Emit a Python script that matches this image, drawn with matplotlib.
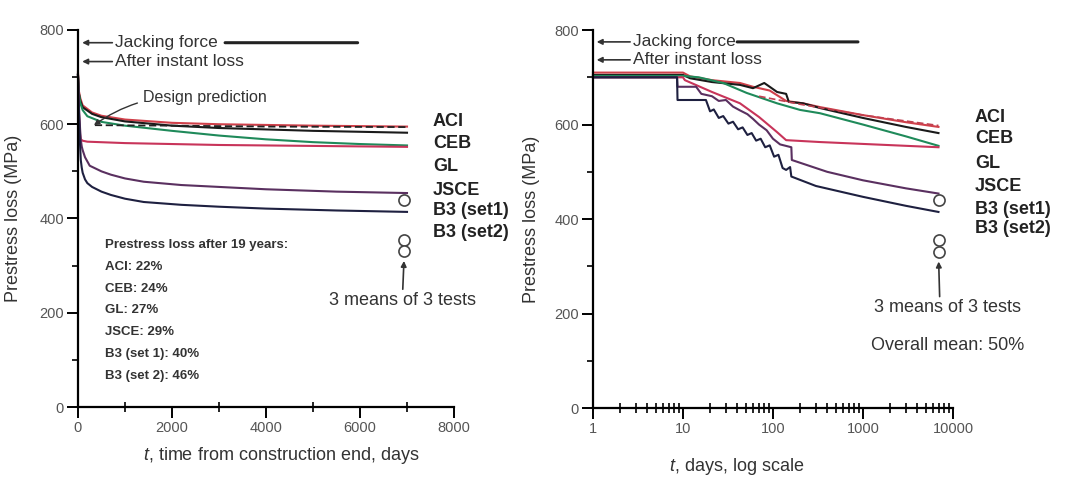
import numpy as np
import matplotlib
matplotlib.use("Agg")
import matplotlib.pyplot as plt
from matplotlib.ticker import MultipleLocator, LogLocator, NullFormatter, FixedLocator

plt.rcParams['font.family'] = ['Liberation Sans', 'DejaVu Sans']
plt.rcParams['mathtext.fontset'] = 'custom'
plt.rcParams['mathtext.it'] = 'Liberation Sans:italic'
plt.rcParams['mathtext.rm'] = 'Liberation Sans'

# -------------------------------
# data (t in days, loss in MPa)
# -------------------------------
models = ["ACI", "CEB", "GL", "JSCE", "B3 (set1)", "B3 (set2)"]
colors = ["#d0404a", "#1a1a1a", "#1f8a5a", "#c8345a", "#5a3060", "#1e2040"]

# linear time plot
lin_aci_t = [0, 20, 50, 100, 300, 500, 1000, 2000, 3000, 5000, 7000]
lin_aci_v = [710, 670, 655, 640, 625, 618, 610, 603, 600, 597, 595]
lin_ceb_t = [0, 20, 50, 100, 300, 500, 1000, 2000, 3000, 5000, 7000]
lin_ceb_v = [705, 665, 650, 636, 622, 615, 606, 597, 592, 586, 582]
lin_gl_t = [0, 20, 50, 100, 200, 500, 1000, 2000, 3000, 4000, 5000, 6000, 7000]
lin_gl_v = [705, 665, 645, 630, 617, 605, 597, 586, 576, 568, 562, 558, 555]
lin_jsce_t = [0, 15, 30, 45, 60, 100, 200, 1000, 3000, 7000]
lin_jsce_v = [705, 640, 600, 578, 568, 565, 563, 560, 556, 552]
lin_b31_t = [0, 15, 30, 45, 60, 80, 100, 150, 250, 500, 700, 1000, 1400, 2200, 3000, 4000, 5500, 7000]
lin_b31_v = [705, 650, 620, 590, 567, 553, 545, 530, 512, 500, 493, 485, 478, 471, 467, 462, 457, 454]
lin_b32_t = [0, 15, 30, 45, 60, 80, 100, 150, 200, 300, 500, 700, 1000, 1400, 2200, 3000, 4000, 5500, 7000]
lin_b32_v = [705, 640, 600, 555, 524, 508, 497, 483, 475, 467, 457, 450, 442, 435, 429, 425, 421, 417, 414]
lin_design_t = [360, 2000, 4000, 7000]
lin_design_v = [598, 597, 595, 594]

# log time plot
log_aci_t = [1, 10, 12, 21, 43, 60, 92, 140, 215, 333, 1000, 3000, 6900]
log_aci_v = [710, 710, 702, 694, 688, 680, 672, 650, 645, 637, 620, 605, 595]
log_ceb_t = [1, 10, 12, 21, 43, 60, 80, 92, 111, 140, 150, 215, 333, 1000, 3000, 6900]
log_ceb_v = [705, 705, 698, 690, 684, 677, 688, 680, 669, 665, 648, 645, 635, 614, 595, 582]
log_gl_t = [1, 10, 15, 28, 51, 111, 200, 333, 1000, 3000, 6900]
log_gl_v = [703, 703, 700, 688, 667, 645, 631, 624, 600, 575, 555]
log_jsce_t = [1, 10, 10.5, 21, 43, 70, 111, 140, 333, 1000, 3000, 6900]
log_jsce_v = [700, 700, 694, 669, 645, 616, 584, 567, 563, 559, 555, 552]
log_b31_t = [1, 8.6, 8.7, 14, 16, 21, 25, 30, 36, 43, 52, 60, 70, 85, 100, 120, 160, 162, 400, 1000, 3000, 6900]
log_b31_v = [700, 700, 680, 680, 665, 660, 650, 652, 638, 630, 622, 612, 600, 588, 570, 558, 552, 525, 500, 482, 465, 454]
log_b32_t = [1, 8.6, 8.7, 18, 20, 22, 25, 28, 32, 36, 41, 46, 52, 58, 65, 73, 82, 92, 103, 115, 128, 140, 155, 160, 300, 1000, 3000, 6900]
log_b32_v = [700, 700, 652, 652, 628, 632, 614, 618, 602, 606, 590, 594, 578, 582, 566, 570, 552, 556, 532, 536, 508, 504, 510, 490, 470, 447, 428, 415]
log_design_t = [70, 200, 1000, 6900]
log_design_v = [660, 643, 620, 598]

# measured means of 3 tests after 19 years
test_t = [6935, 6935, 6935]
test_v = [440, 355, 330]

loss_lines = ["Prestress loss after 19 years:", "ACI: 22%", "CEB: 24%", "GL: 27%",
              "JSCE: 29%", "B3 (set 1): 40%", "B3 (set 2): 46%"]

lin_series = [(lin_aci_t, lin_aci_v), (lin_ceb_t, lin_ceb_v), (lin_gl_t, lin_gl_v),
              (lin_jsce_t, lin_jsce_v), (lin_b31_t, lin_b31_v), (lin_b32_t, lin_b32_v)]
log_series = [(log_aci_t, log_aci_v), (log_ceb_t, log_ceb_v), (log_gl_t, log_gl_v),
              (log_jsce_t, log_jsce_v), (log_b31_t, log_b31_v), (log_b32_t, log_b32_v)]

label_y_left = [0.756, 0.698, 0.637, 0.573, 0.520, 0.464]
label_y_right = [0.770, 0.712, 0.646, 0.587, 0.526, 0.474]

fig = plt.figure(figsize=(10.68, 4.79), dpi=100)
ax1 = fig.add_axes([0.0730, 0.1503, 0.3521, 0.7871])
ax2 = fig.add_axes([0.5552, 0.1482, 0.3371, 0.7890])


def style_axes(ax):
    for s in ["top", "right"]:
        ax.spines[s].set_visible(False)
    for s in ["left", "bottom"]:
        ax.spines[s].set_linewidth(1.6)
    ax.set_ylim(0, 800)
    ax.yaxis.set_major_locator(MultipleLocator(200))
    ax.yaxis.set_minor_locator(MultipleLocator(100))
    ax.tick_params(which="major", direction="out", length=8, width=1.4,
                   labelsize=10.5, labelcolor="#555555", pad=2)
    ax.tick_params(which="minor", direction="out", length=4, width=1.2)
    ax.set_ylabel("Prestress loss (MPa)", fontsize=13, color="#333333")


# ---- left panel ----
style_axes(ax1)
ax1.set_xlim(0, 8000)
ax1.xaxis.set_major_locator(MultipleLocator(2000))
ax1.xaxis.set_minor_locator(MultipleLocator(1000))
ax1.tick_params(axis="x", which="minor", direction="inout", length=7)
ax1.yaxis.set_label_coords(-0.15, 0.5)
ax1.set_xlabel(r"$t$, time from construction end, days", fontsize=13, color="#333333")
ax1.xaxis.set_label_coords(0.54, -0.10)

for (t, v), c in zip(lin_series, colors):
    ax1.plot(t, v, color=c, lw=1.5, clip_on=False)
ax1.plot(lin_design_t, lin_design_v, color="#222222", lw=1.3, ls=(0, (4, 2)))
ax1.plot(test_t, test_v, "o", ms=8, mfc="white", mec="#444444", mew=1.2, clip_on=False)

for name, y in zip(models, label_y_left):
    ax1.text(0.944, y, name, transform=ax1.transAxes, fontsize=13, fontweight="bold",
             color="#222222", va="center", ha="left")

for i, line in enumerate(loss_lines):
    ax1.text(0.072, 0.43 - 0.058 * i, line, transform=ax1.transAxes, fontsize=9.5,
             fontweight="bold", color="#333333", va="center", ha="left")

ax1.annotate("Jacking force", xy=(90, 773), xytext=(790, 773), fontsize=12.5,
             va="center", ha="left", color="#333333",
             arrowprops=dict(arrowstyle="-|>", color="#333333", lw=1.2, shrinkA=0, shrinkB=0,
                             mutation_scale=8))
ax1.annotate("", xy=(5950, 773), xytext=(3130, 773),
             arrowprops=dict(arrowstyle="-", color="#222222", lw=2.2, shrinkA=0, shrinkB=0))
ax1.annotate("After instant loss", xy=(90, 733), xytext=(790, 733), fontsize=12.5,
             va="center", ha="left", color="#333333",
             arrowprops=dict(arrowstyle="-|>", color="#333333", lw=1.2, shrinkA=0, shrinkB=0,
                             mutation_scale=8))
ax1.annotate("Design prediction", xy=(340, 598), xytext=(1380, 656), fontsize=11.5,
             va="center", ha="left", color="#333333",
             arrowprops=dict(arrowstyle="-|>", color="#333333", lw=1.0, shrinkA=2, shrinkB=0,
                             mutation_scale=8, connectionstyle="arc3,rad=0.2"))
ax1.annotate("3 means of 3 tests", xy=(6935, 310), xytext=(6900, 226), fontsize=13,
             va="center", ha="center", color="#333333",
             arrowprops=dict(arrowstyle="-|>", color="#333333", lw=1.2, shrinkA=0, shrinkB=0,
                             mutation_scale=8))

# ---- right panel ----
style_axes(ax2)
ax2.set_xscale("log")
ax2.set_xlim(1, 10000)
ax2.xaxis.set_major_locator(FixedLocator([1, 10, 100, 1000, 10000]))
ax2.xaxis.set_minor_locator(LogLocator(base=10, subs=np.arange(2, 10), numticks=20))
ax2.xaxis.set_minor_formatter(NullFormatter())
ax2.set_xticklabels(["1", "10", "100", "1000", "10000"])
ax2.tick_params(axis="x", which="minor", direction="inout", length=7)
ax2.yaxis.set_label_coords(-0.147, 0.5)
ax2.set_xlabel(r"$t$, days, log scale", fontsize=13, color="#333333")
ax2.xaxis.set_label_coords(0.40, -0.128)

for (t, v), c in zip(log_series, colors):
    ax2.plot(t, v, color=c, lw=1.5, clip_on=False)
ax2.plot(log_design_t, log_design_v, color="#c04050", lw=1.2, ls=(0, (4, 2)))
ax2.plot(test_t, test_v, "o", ms=8, mfc="white", mec="#444444", mew=1.2, clip_on=False)

for name, y in zip(models, label_y_right):
    ax2.text(1.061, y, name, transform=ax2.transAxes, fontsize=13, fontweight="bold",
             color="#222222", va="center", ha="left")

ax2.annotate("Jacking force", xy=(1.1, 775), xytext=(2.78, 775), fontsize=12.5,
             va="center", ha="left", color="#333333",
             arrowprops=dict(arrowstyle="-|>", color="#333333", lw=1.2, shrinkA=0, shrinkB=0,
                             mutation_scale=8))
ax2.annotate("", xy=(880, 775), xytext=(40, 775),
             arrowprops=dict(arrowstyle="-", color="#222222", lw=2.2, shrinkA=0, shrinkB=0))
ax2.annotate("After instant loss", xy=(1.1, 737), xytext=(2.78, 737), fontsize=12.5,
             va="center", ha="left", color="#333333",
             arrowprops=dict(arrowstyle="-|>", color="#333333", lw=1.2, shrinkA=0, shrinkB=0,
                             mutation_scale=8))
ax2.annotate("3 means of 3 tests", xy=(6935, 310), xytext=(8600, 212), fontsize=13,
             va="center", ha="center", color="#333333", annotation_clip=False,
             arrowprops=dict(arrowstyle="-|>", color="#333333", lw=1.2, shrinkA=0, shrinkB=0,
                             mutation_scale=8, relpos=(0.45, 1.0)))
ax2.text(8800, 133, "Overall mean: 50%", fontsize=13, va="center", ha="center",
         color="#333333", clip_on=False)

fig.savefig("out.png", dpi=100)
